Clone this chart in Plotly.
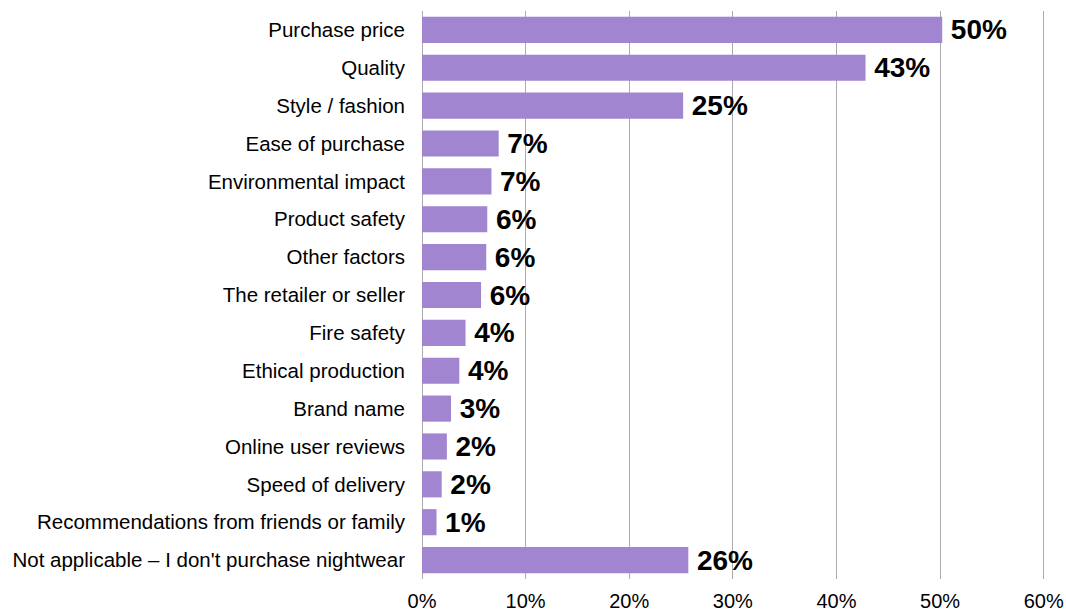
import plotly.graph_objects as go

# Factors considered when buying nightwear (share of respondents)
categories = [
    "Purchase price",
    "Quality",
    "Style / fashion",
    "Ease of purchase",
    "Environmental impact",
    "Product safety",
    "Other factors",
    "The retailer or seller",
    "Fire safety",
    "Ethical production",
    "Brand name",
    "Online user reviews",
    "Speed of delivery",
    "Recommendations from friends or family",
    "Not applicable \u2013 I don't purchase nightwear",
]
shares = [0.502, 0.428, 0.252, 0.074, 0.067, 0.063, 0.062, 0.057,
          0.042, 0.036, 0.028, 0.024, 0.019, 0.014, 0.257]
tick_values = [0, 0.1, 0.2, 0.3, 0.4, 0.5, 0.6]

BAR_COLOR = "#A185D0"
GRID_COLOR = "#ABABAB"
FONT = "Liberation Sans, Arial, sans-serif"

fig = go.Figure(
    go.Bar(
        x=shares,
        y=categories,
        orientation="h",
        marker=dict(color=BAR_COLOR, line=dict(width=0)),
        texttemplate="\u2009%{x:.0%}",
        textposition="outside",
        constraintext="none",
        textfont=dict(family=FONT, size=28, color="#000000", weight="bold"),
        cliponaxis=False,
        hoverinfo="skip",
    )
)

fig.update_layout(
    width=1066,
    height=611,
    margin=dict(l=422, r=21, t=11, b=32),
    paper_bgcolor="white",
    plot_bgcolor="white",
    bargap=0.31,
    showlegend=False,
    uniformtext=dict(mode=False),
    font=dict(family=FONT, size=20, color="#000000"),
    xaxis=dict(
        range=[0, 0.6012],
        tickvals=tick_values,
        tickformat=".0%",
        showgrid=True,
        gridcolor=GRID_COLOR,
        gridwidth=1,
        zeroline=True,
        zerolinecolor=GRID_COLOR,
        zerolinewidth=1,
        showline=False,
        ticks="",
        ticklabelstandoff=8,
        automargin=False,
        tickfont=dict(family=FONT, size=20, color="#000000"),
        fixedrange=True,
    ),
    yaxis=dict(
        autorange="reversed",
        showgrid=False,
        ticks="",
        ticklabelstandoff=16,
        automargin=False,
        tickfont=dict(family=FONT, size=20.5, color="#000000"),
        fixedrange=True,
    ),
)

fig.write_html("out.html")
